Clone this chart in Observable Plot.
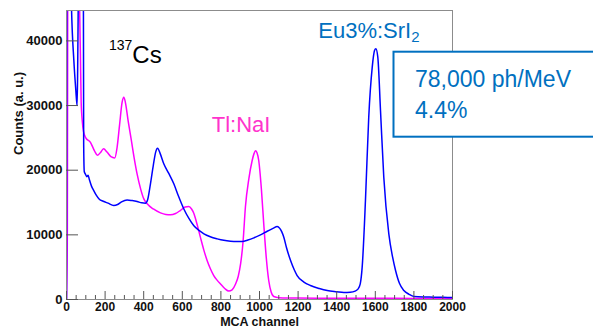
<!DOCTYPE html>
<html><head><meta charset="utf-8">
<script src="https://cdn.jsdelivr.net/npm/d3@7"></script>
<script src="https://cdn.jsdelivr.net/npm/@observablehq/plot@0.6"></script>
<style>body{margin:0;background:#fff;overflow:hidden} #chart svg{display:block}</style>
</head><body><div id="chart"></div>
<script>
// Eu3%:SrI2 spectrum (blue)
const srChannel = [0,3,12,26,38,48,55,58,62,70,86,89,92,98,105,112,118,130,142,155,170,190,215,245,265,285,314,340,366,390,409,420,435,450,462,472,485,504,530,556,580,608,635,660,690,712,745,781,815,850,880,910,940,971,1005,1040,1070,1092,1105,1115,1126,1140,1161,1180,1195,1230,1264,1310,1351,1400,1437,1470,1495,1510,1522,1532,1549,1566,1584,1596,1603,1613,1627,1644,1670,1690,1705,1725,1748,1775,1800,1850,1903,1950,2000];
const srCounts  = [0,70000,70000,45000,37000,32500,30000,36000,50000,70000,70000,24000,19800,19400,19000,19200,18600,17500,16800,16100,15500,15200,14900,14550,14700,15100,15400,15300,15150,14950,14900,15400,17900,20800,22800,23400,22600,21000,19500,17900,16000,14000,12500,11400,10600,10150,9700,9380,9150,9020,8970,8970,9200,9540,10000,10560,11000,11300,11000,10500,9630,8000,6030,4600,3710,2700,2160,1700,1390,1200,1080,1120,1300,1600,2430,5000,15300,28200,35900,38500,38800,37500,29200,18900,10160,6500,4480,2500,1390,800,460,380,360,330,300];
// Tl:NaI spectrum (magenta)
const naiChannel = [0,4,8,62,68,72,76,82,88,100,124,145,160,175,192,210,230,250,262,275,288,297,305,320,335,350,366,385,400,418,450,487,515,539,565,591,615,634,648,660,675,694,712,729,745,763,780,798,820,841,858,876,890,902,915,927,945,962,972,979,987,996,1010,1022,1035,1048,1060,1074,1100,1200,1400,1600,1800,2000];
const naiCounts  = [0,8000,70000,70000,45000,38000,30500,27500,26000,25000,24300,23000,22300,22700,23300,22800,22100,21900,23500,27000,30500,31300,30500,27500,24800,22000,19400,17000,15600,14800,14000,13400,13150,13100,13300,13800,14300,14400,14000,13300,11800,9600,7600,6000,4800,3700,3000,2400,1700,1300,1500,2400,3600,5500,9000,14300,18700,21500,22600,23000,22700,21500,17000,11700,6500,2900,1200,460,280,220,200,180,170,160];

const xTicks = [0,200,400,600,800,1000,1200,1400,1600,1800,2000];
const xMinorTicks = d3.range(50, 2000, 50).filter(v => v % 200 !== 0);
const yTicks = [0,10000,20000,30000,40000];
const xLabel = "MCA channel";
const yLabel = "Counts (a. u.)";

const sr = srChannel.map((c, i) => ({channel: c, count: srCounts[i]}));
const nai = naiChannel.map((c, i) => ({channel: c, count: naiCounts[i]}));

const W = 593, H = 329, mL = 66, mR = 141, mT = 10, mB = 30;
const fw = W - mL - mR, fh = H - mT - mB;
const font = "'Liberation Sans', Arial, sans-serif";

const plot = Plot.plot({
  width: W, height: H,
  marginLeft: mL, marginRight: mR, marginTop: mT, marginBottom: mB,
  style: {fontFamily: font, background: "white", color: "#111"},
  x: {domain: [0, 2000], axis: null},
  y: {domain: [0, 44700], axis: null},
  marks: [
    Plot.line(nai, {x: "channel", y: "count", stroke: "#ff00ff", strokeWidth: 1.5, curve: "monotone-x", clip: true}),
    Plot.line(sr, {x: "channel", y: "count", stroke: "#0000ff", strokeWidth: 1.5, curve: "monotone-x", clip: true}),
    Plot.frame({stroke: "#8c8c8c"}),
    Plot.ruleX(xTicks, {insetTop: fh - 8, stroke: "#555"}),
    Plot.ruleX(xMinorTicks, {insetTop: fh - 4, stroke: "#555"}),
    Plot.ruleY(yTicks, {insetRight: fw - 12, stroke: "#555"}),
    Plot.axisX(xTicks, {tickSize: 0, tickPadding: 3, fontSize: 12, fontWeight: "bold", label: null, tickFormat: d => String(d)}),
    Plot.axisY(yTicks, {tickSize: 0, tickPadding: 4, fontSize: 13, fontWeight: "bold", label: null, tickFormat: d => String(d)}),
    Plot.text([xLabel], {frameAnchor: "bottom", dy: 22.5, lineAnchor: "middle", fontSize: 12.5, fontWeight: "bold", fill: "#111"}),
    Plot.text([yLabel], {frameAnchor: "left", dx: -48, rotate: -90, lineAnchor: "middle", fontSize: 13, fontWeight: "bold", fill: "#111"})
  ]
});
document.getElementById("chart").append(plot);

// annotations
const svg = d3.select(plot);
const ann = svg.append("g").attr("font-family", font).attr("text-anchor", "start");

const cs = ann.append("text").attr("x", 109).attr("y", 63.3).attr("fill", "#000");
cs.append("tspan").attr("font-size", 14).attr("dy", -13).text("137");
cs.append("tspan").attr("font-size", 24).attr("dy", 13).text("Cs");

ann.append("text").attr("x", 211.7).attr("y", 131.7).attr("fill", "#ff33cc").attr("font-size", 22).text("Tl:NaI");

const eu = ann.append("text").attr("x", 318.3).attr("y", 38.3).attr("fill", "#0070c0").attr("font-size", 22);
eu.append("tspan").text("Eu3%:SrI");
eu.append("tspan").attr("font-size", 15).attr("dy", 3.4).text("2");

ann.append("rect").attr("x", 393.5).attr("y", 51.7).attr("width", 230).attr("height", 85)
  .attr("fill", "white").attr("stroke", "#0070c0").attr("stroke-width", 2);
ann.append("text").attr("x", 415).attr("y", 87.3).attr("fill", "#0070c0").attr("font-size", 23).text("78,000 ph/MeV");
ann.append("text").attr("x", 415).attr("y", 118.3).attr("fill", "#0070c0").attr("font-size", 23).text("4.4%");
</script>
</body></html>
